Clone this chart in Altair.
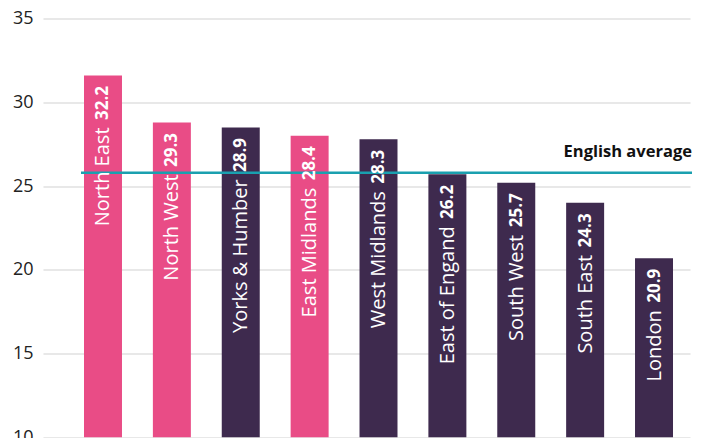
import altair as alt
import pandas as pd

regions = ["North East", "North West", "Yorks & Humber", "East Midlands", "West Midlands",
           "East of Engand", "South West", "South East", "London"]
bar_values = [31.6, 28.8, 28.5, 28.0, 27.8, 25.7, 25.2, 24.0, 20.7]
label_values = ["32.2", "29.3", "28.9", "28.4", "28.3", "26.2", "25.7", "24.3", "20.9"]
groups = ["pink", "pink", "purple", "pink", "purple", "purple", "purple", "purple", "purple"]
y_ticks = [10, 15, 20, 25, 30, 35]
average_value = 25.8
average_label = "English average"

df = pd.DataFrame({"region": regions, "value": bar_values, "label": label_values, "group": groups})
avg_df = pd.DataFrame({"avg": [average_value], "text": [average_label]})

FONT = "Open Sans"

x = alt.X("region:N", sort=None, axis=None,
          scale=alt.Scale(paddingInner=0.4485, paddingOuter=0.421, align=0.707))
y_scale = alt.Scale(domain=[10, 35], nice=False, zero=False)

bars = alt.Chart(df).mark_bar(clip=True).encode(
    x=x,
    y=alt.Y("value:Q", scale=y_scale,
            axis=alt.Axis(values=y_ticks, title=None, domain=False, ticks=False,
                          labelFontSize=18, labelColor="#222222", labelFont=FONT,
                          labelPadding=10, gridColor="#e0e0e0", gridWidth=1.5)),
    y2=alt.datum(10),
    color=alt.Color("group:N", scale=alt.Scale(domain=["pink", "purple"],
                                               range=["#E94C86", "#3E2A4E"]), legend=None),
)

value_text = alt.Chart(df).mark_text(angle=270, align="right", baseline="middle",
                                     dx=-10.5, dy=0.5, color="white", font=FONT,
                                     fontSize=17, fontWeight="bold").encode(
    x=x, y=alt.Y("value:Q", scale=y_scale), text="label:N")

name_text = alt.Chart(df).mark_text(angle=270, align="right", baseline="middle",
                                    dx=-52, dy=0.5, color="white", font=FONT,
                                    fontSize=20).encode(
    x=x, y=alt.Y("value:Q", scale=y_scale), text="region:N")

avg_rule = alt.Chart(avg_df).mark_rule(color="#1AA0AF", strokeWidth=2.5).encode(
    y=alt.Y("avg:Q", scale=y_scale), x=alt.value(38), x2=alt.value(649))

avg_text = alt.Chart(avg_df).mark_text(align="right", baseline="alphabetic", dy=-15.5,
                                       fontSize=16.5, fontWeight="bold", font=FONT,
                                       color="#111111").encode(
    y=alt.Y("avg:Q", scale=y_scale), x=alt.value(649), text="text:N")

chart = alt.layer(bars, avg_rule, avg_text, value_text, name_text).properties(
    width=647, height=419,
    autosize=alt.AutoSizeParams(type="none"),
    padding={"left": 35, "top": 10.5, "right": 6, "bottom": 0},
    background="white",
).configure_view(stroke=None)

chart.save("out.html", embed_options={"renderer": "svg", "actions": False})
